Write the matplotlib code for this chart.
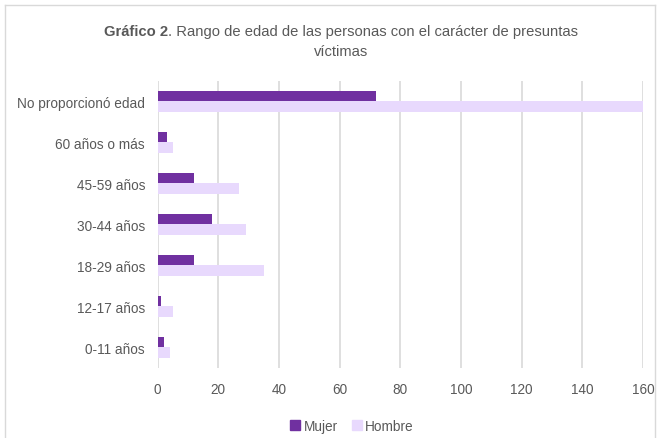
import matplotlib as mpl
mpl.use('Agg')
import matplotlib.pyplot as plt
from matplotlib.lines import Line2D
import numpy as np

# data, listed bottom to top as drawn
categories = ['0-11 años', '12-17 años', '18-29 años', '30-44 años',
              '45-59 años', '60 años o más', 'No proporcionó edad']
mujer = [2, 1, 12, 18, 12, 3, 72]
hombre = [4, 5, 35, 29, 27, 5, 160]
xticks = [0, 20, 40, 60, 80, 100, 120, 140, 160]

text_col = '#595959'
grid_col = '#D9D9D9'
col_mujer = '#7030A0'
col_hombre = '#E8D9FD'

plt.rcParams['font.family'] = ['Liberation Sans', 'DejaVu Sans']
fs = 9.8

fig = plt.figure(figsize=(6.61, 4.39), dpi=100)
ax = fig.add_axes([0.2383, 0.1595, 0.7345, 0.6538])

y = np.arange(len(categories))
h = 0.26
ax.barh(y + h / 2, mujer, height=h, color=col_mujer, label='Mujer', zorder=3)
ax.barh(y - h / 2, hombre, height=h, color=col_hombre, label='Hombre', zorder=3)

ax.set_xlim(0, 160)
ax.set_ylim(-0.5, len(categories) - 0.5)
ax.set_xticks(xticks)
ax.set_yticks(y)
ax.set_yticklabels(categories)
ax.tick_params(axis='both', length=0, colors=text_col, labelsize=fs)
ax.tick_params(axis='y', pad=9)
ax.tick_params(axis='x', pad=10)
ax.xaxis.grid(True, color=grid_col, linewidth=1.2, zorder=0)
for s in ax.spines.values():
    s.set_visible(False)

# title with bold lead-in
tfs = 10.6
r = fig.canvas.get_renderer()
t1 = fig.text(0, 0, 'Gráfico 2', fontweight='bold', fontsize=tfs, color=text_col)
t2 = fig.text(0, 0, '. Rango de edad de las personas con el carácter de presuntas',
              fontsize=tfs, color=text_col)
w1 = t1.get_window_extent(r).width / fig.bbox.width
w2 = t2.get_window_extent(r).width / fig.bbox.width
x0 = 341 / 661 - (w1 + w2) / 2
yt = 1 - 32 / 439
t1.set_position((x0, yt))
t2.set_position((x0 + w1, yt))
t1.set_va('center')
t2.set_va('center')
fig.text(341 / 661, 1 - 52 / 439, 'víctimas', ha='center', va='center',
         fontsize=tfs, color=text_col)

# legend
handles = [Line2D([], [], marker='s', linestyle='none', markersize=7,
                  color=col_mujer),
           Line2D([], [], marker='s', linestyle='none', markersize=7,
                  color=col_hombre)]
fig.legend(handles, ['Mujer', 'Hombre'], loc='center', ncol=2,
           bbox_to_anchor=(351 / 661, 1 - 427 / 439), frameon=False,
           labelcolor=text_col, fontsize=fs, handletextpad=0.1,
           columnspacing=0.9, handlelength=1.0)

# chart border
bx0, bx1, by = 5 / 661, 655 / 661, 1 - 6 / 439
for xs, ys in [([bx0, bx0], [0, by]), ([bx0, bx1], [by, by]), ([bx1, bx1], [by, 0])]:
    fig.add_artist(Line2D(xs, ys, color=grid_col, linewidth=1.0,
                          transform=fig.transFigure))

plt.savefig('out.png', dpi=100)
